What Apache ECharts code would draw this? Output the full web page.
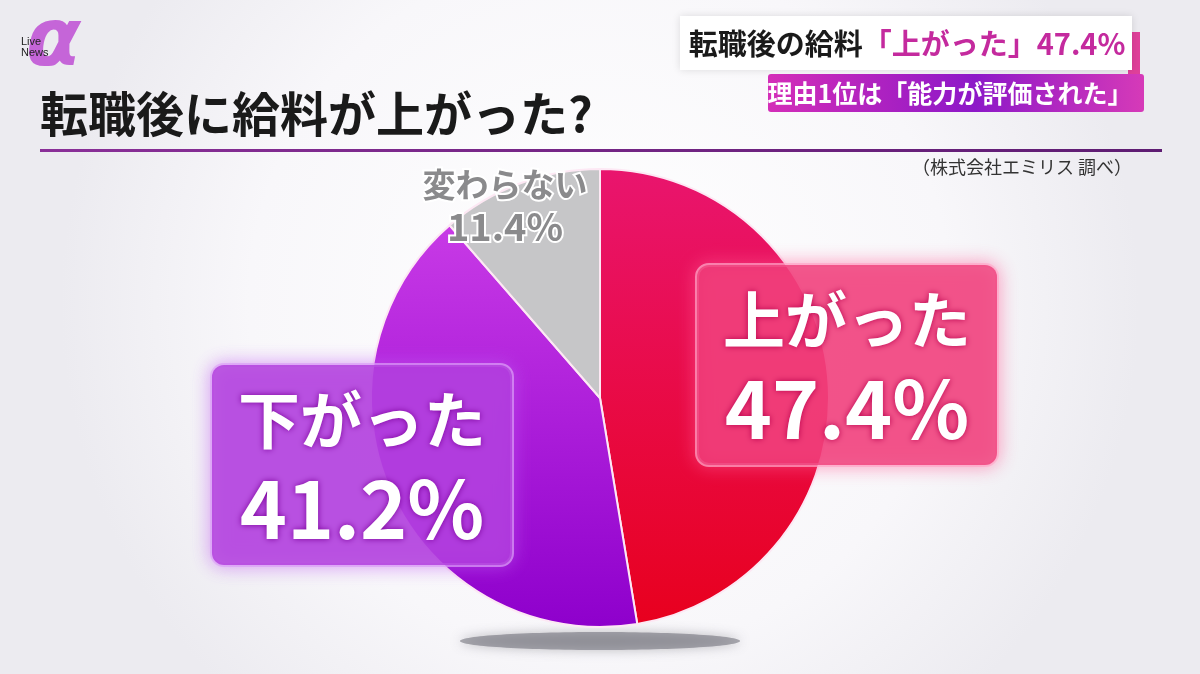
<!DOCTYPE html>
<html>
<head>
<meta charset="utf-8">
<script src="https://cdn.jsdelivr.net/npm/echarts@6/dist/echarts.min.js"></script>
<style>
  html, body { margin: 0; padding: 0; }
  #chart { width: 1200px; height: 674px; }
</style>
</head>
<body>
<div id="chart"></div>
<script>
const categories = ['上がった', '下がった', '変わらない'];
const values = [47.4, 41.2, 11.4];

// label box centres, in pixels
const labelSpots = [[847, 365], [362, 465], [505, 206]];

const FONT = '"Noto Sans CJK JP", "Noto Sans", sans-serif';

const sliceColors = [
  new echarts.graphic.LinearGradient(0, 0, 0, 1, [
    { offset: 0, color: '#e9156e' },
    { offset: 1, color: '#e8001e' }
  ]),
  new echarts.graphic.LinearGradient(0, 0, 0, 1, [
    { offset: 0, color: '#c83ae6' },
    { offset: 1, color: '#8e00cc' }
  ]),
  '#c6c6c8'
];

const labelStyles = [
  {
    backgroundColor: 'rgba(238, 60, 120, 0.78)',
    borderColor: 'rgba(255, 190, 215, 0.7)',
    borderWidth: 2,
    borderRadius: 12,
    padding: [14, 26, 8, 26],
    shadowColor: 'rgba(255, 90, 150, 0.7)',
    shadowBlur: 18,
    rich: {
      n: { fontSize: 62, fontWeight: 'bold', color: '#fff', lineHeight: 82, fontFamily: FONT,
           textShadowColor: '#b8004c', textShadowBlur: 6 },
      v: { fontSize: 80, fontWeight: 'bold', color: '#fff', lineHeight: 96, fontFamily: FONT,
           textShadowColor: '#b8004c', textShadowBlur: 6 }
    }
  },
  {
    backgroundColor: 'rgba(176, 60, 220, 0.8)',
    borderColor: 'rgba(230, 180, 250, 0.7)',
    borderWidth: 2,
    borderRadius: 12,
    padding: [14, 26, 8, 26],
    shadowColor: 'rgba(190, 90, 240, 0.7)',
    shadowBlur: 18,
    rich: {
      n: { fontSize: 62, fontWeight: 'bold', color: '#fff', lineHeight: 82, fontFamily: FONT,
           textShadowColor: '#7a0099', textShadowBlur: 6 },
      v: { fontSize: 80, fontWeight: 'bold', color: '#fff', lineHeight: 96, fontFamily: FONT,
           textShadowColor: '#7a0099', textShadowBlur: 6 }
    }
  },
  {
    rich: {
      n: { fontSize: 33, fontWeight: 'bold', color: '#8a8a8c', lineHeight: 42, fontFamily: FONT,
           textBorderColor: '#fff', textBorderWidth: 4 },
      v: { fontSize: 38, fontWeight: 'bold', color: '#8a8a8c', lineHeight: 44, fontFamily: FONT,
           textBorderColor: '#fff', textBorderWidth: 4 }
    }
  }
];

const chart = echarts.init(document.getElementById('chart'));

chart.setOption({
  backgroundColor: new echarts.graphic.RadialGradient(0.5, 0.45, 0.8, [
    { offset: 0, color: '#ffffff' },
    { offset: 0.65, color: '#f8f7fa' },
    { offset: 1, color: '#ecebf0' }
  ]),
  graphic: [
    // logo
    {
      type: 'text', left: 26, top: 4, z: 1,
      style: {
        text: 'α', fontSize: 80, fontStyle: 'italic', fontWeight: 'bold', fontFamily: 'DejaVu Sans',
        fill: '#c565d8'
      }
    },
    {
      type: 'text', left: 21, top: 36, z: 2,
      style: { text: 'Live\nNews', fontSize: 11, lineHeight: 11, fontFamily: 'Liberation Sans', fill: '#222' }
    },
    // headline banner
    {
      type: 'rect', z: 1,
      shape: { x: 1128, y: 32, width: 12, height: 42 },
      style: { fill: '#e0409a' }
    },
    {
      type: 'rect', z: 2,
      shape: { x: 680, y: 16, width: 452, height: 54 },
      style: { fill: '#ffffff', shadowColor: 'rgba(0,0,0,0.12)', shadowBlur: 8 }
    },
    {
      type: 'text', z: 3, x: 907, y: 44,
      style: {
        text: '{b|転職後の給料}{p|「上がった」47.4%}',
        align: 'center', verticalAlign: 'middle',
        rich: {
          b: { fontSize: 29, fontWeight: 'bold', fill: '#1a1a1a', fontFamily: FONT },
          p: { fontSize: 29, fontWeight: 'bold', fill: '#c42a9e', fontFamily: FONT }
        }
      }
    },
    {
      type: 'rect', z: 2,
      shape: { x: 768, y: 74, width: 376, height: 38, r: 3 },
      style: {
        fill: new echarts.graphic.LinearGradient(0, 0, 1, 0, [
          { offset: 0, color: '#d42eb8' },
          { offset: 0.55, color: '#8d18c8' },
          { offset: 1, color: '#d63ab8' }
        ])
      }
    },
    {
      type: 'text', z: 3, x: 950, y: 93,
      style: {
        text: '理由1位は「能力が評価された」', align: 'center', verticalAlign: 'middle',
        fontSize: 25, fontWeight: 'bold', fill: '#fff', fontFamily: FONT
      }
    },
    // title
    {
      type: 'text', z: 2, left: 40, top: 90,
      style: { text: '転職後に給料が上がった?', fontSize: 48, fontWeight: 'bold', fill: '#1a1a1a', fontFamily: FONT }
    },
    {
      type: 'rect', z: 2,
      shape: { x: 40, y: 149, width: 1122, height: 3 },
      style: {
        fill: new echarts.graphic.LinearGradient(0, 0, 1, 0, [
          { offset: 0, color: '#8a2f98' },
          { offset: 1, color: '#5e1c72' }
        ])
      }
    },
    {
      type: 'text', z: 2, right: 68, top: 158,
      style: { text: '（株式会社エミリス 調べ）', fontSize: 18, fill: '#333', fontFamily: FONT }
    },
    // pie shadow
    {
      type: 'ellipse', z: 0,
      shape: { cx: 600, cy: 641, rx: 140, ry: 9 },
      style: { fill: 'rgba(95, 95, 105, 0.5)', shadowColor: 'rgba(80, 80, 90, 0.7)', shadowBlur: 12 }
    }
  ],
  series: [
    {
      name: '転職後の給料',
      type: 'pie',
      center: [600, 398],
      radius: 229,
      startAngle: 90,
      clockwise: true,
      z: 3,
      silent: true,
      itemStyle: { borderColor: '#fde8f4', borderWidth: 2 },
      labelLine: { show: false },
      label: {
        show: true,
        position: 'outside',
        formatter: p => '{n|' + p.name + '}\n{v|' + p.value + '%}',
        align: 'center'
      },
      labelLayout: p => ({
        x: labelSpots[p.dataIndex][0],
        y: labelSpots[p.dataIndex][1],
        align: 'center',
        verticalAlign: 'middle'
      }),
      data: categories.map((name, i) => ({
        name: name,
        value: values[i],
        itemStyle: { color: sliceColors[i] },
        label: labelStyles[i]
      }))
    }
  ]
});
</script>
</body>
</html>
